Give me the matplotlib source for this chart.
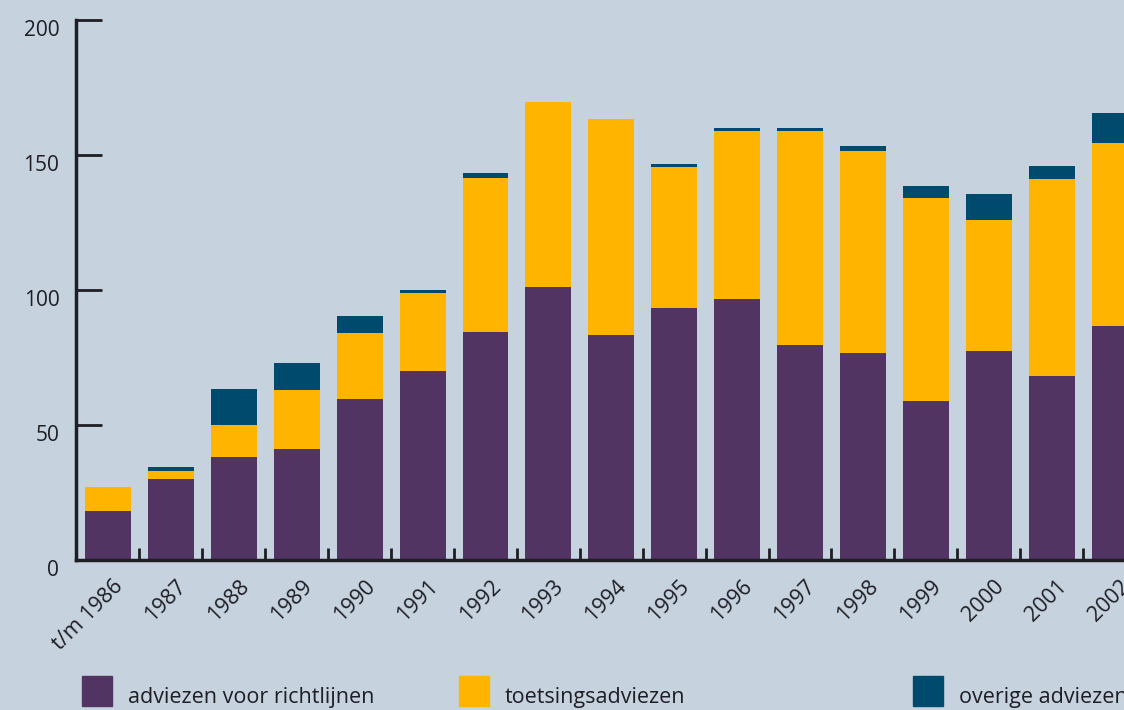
import numpy as np
import matplotlib.pyplot as plt
from matplotlib.patches import Rectangle
from matplotlib.transforms import ScaledTranslation

plt.rcParams['font.family'] = ['Open Sans', 'DejaVu Sans']

years = ['t/m 1986', '1987', '1988', '1989', '1990', '1991', '1992', '1993', '1994',
         '1995', '1996', '1997', '1998', '1999', '2000', '2001', '2002']
richtlijnen = [18, 30, 38, 41, 59.5, 70, 84.5, 101, 83.5, 93.5, 96.5, 79.5, 76.5, 59, 77.5, 68, 86.5]
toetsing = [9, 3, 12, 22, 24.5, 29, 57, 68.5, 80, 52, 62.5, 79.5, 75, 75, 48.5, 73, 68]
overige = [0, 1.5, 13.5, 10, 6.5, 1, 2, 0, 0, 1, 1, 1, 2, 4.5, 9.5, 5, 11]

c_paars = '#523463'
c_geel = '#ffb400'
c_blauw = '#004a6d'
bg = '#c6d3df'
ink = '#1e1e24'

richtlijnen = np.array(richtlijnen)
toetsing = np.array(toetsing)
overige = np.array(overige)
x = np.arange(len(years))

fig = plt.figure(figsize=(11.24, 7.10), dpi=100, facecolor=bg)
ax = fig.add_axes([0.0676, 0.2113, 1 - 0.0676, 0.9718 - 0.2113])
ax.set_facecolor(bg)

w = 0.73
ax.bar(x, richtlijnen, w, color=c_paars)
ax.bar(x, toetsing, w, bottom=richtlijnen, color=c_geel)
ax.bar(x, overige, w, bottom=richtlijnen + toetsing, color=c_blauw)

ax.set_xlim(-0.509, 16.15)
ax.set_ylim(0, 200)

for s in ['top', 'right']:
    ax.spines[s].set_visible(False)
for s in ['left', 'bottom']:
    ax.spines[s].set_linewidth(2.5)
    ax.spines[s].set_color(ink)
    ax.spines[s].set_capstyle('projecting')

ax.set_yticks([0, 50, 100, 150, 200])
ax.tick_params(axis='y', direction='in', length=19, width=2, color=ink,
               labelsize=15, pad=12, labelcolor=ink)
# getallen staan iets onder de streepjes
for lab in ax.get_yticklabels():
    lab.set_transform(lab.get_transform() + ScaledTranslation(0, -8 / 100, fig.dpi_scale_trans))

ax.set_xticks(x)
ax.set_xticklabels(years, rotation=45, ha='right', va='center', rotation_mode='anchor',
                   fontsize=15.5, color=ink)
ax.tick_params(axis='x', which='major', length=0, pad=17)
ax.set_xticks(x[:-1] + 0.5, minor=True)
ax.tick_params(axis='x', which='minor', direction='in', length=9, width=2, color=ink)
for lab in ax.get_xticklabels():
    lab.set_transform(lab.get_transform() + ScaledTranslation(12 / 100, 0, fig.dpi_scale_trans))

# legenda onderaan
leg = [(82, c_paars, 'adviezen voor richtlijnen'),
       (459, c_geel, 'toetsingsadviezen'),
       (913, c_blauw, 'overige adviezen')]
for px, col, txt in leg:
    fig.add_artist(Rectangle((px / 1124, 4 / 710), 30 / 1124, 30 / 710,
                             transform=fig.transFigure, color=col))
    fig.text((px + 46) / 1124, 12 / 710, txt, fontsize=15.5, color=ink,
             va='center', ha='left')

fig.savefig('out.png', dpi=100, facecolor=bg)
